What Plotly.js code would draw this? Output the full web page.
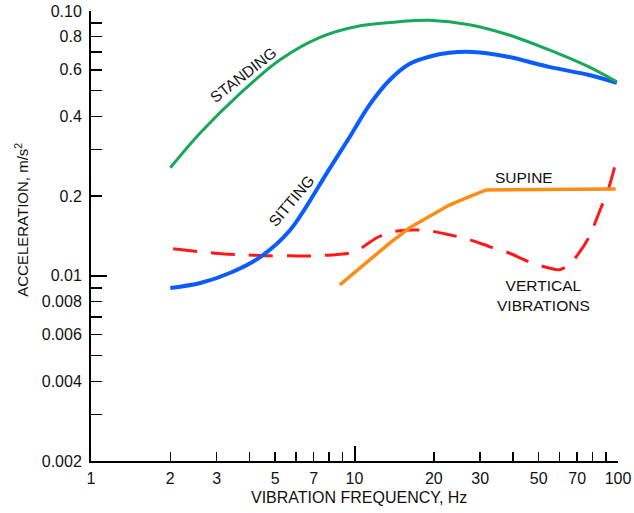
<!DOCTYPE html>
<html>
<head>
<meta charset="utf-8">
<script src="https://cdn.plot.ly/plotly-3.0.1.min.js"></script>
<style>
  html, body { margin: 0; padding: 0; background: #fff; }
  #chart { width: 634px; height: 513px; }
</style>
</head>
<body>
<div id="chart"></div>
<script>
// ---- data ----
const standingFreq = [2, 2.6, 3.7, 5.2, 7.4, 10.4, 15, 19.2, 27.3, 38.6, 54.8, 77.6, 99];
const standingAcc  = [0.0256, 0.0347, 0.0491, 0.0653, 0.0795, 0.0878, 0.0912, 0.0922, 0.0888, 0.0812, 0.0713, 0.0615, 0.054];

const sittingFreq = [2, 2.6, 3.4, 4.4, 5.7, 8.0, 9.6, 11.4, 13.6, 16.2, 19.2, 22.9, 28, 38.6, 54.8, 77.6, 99];
const sittingAcc  = [0.0090, 0.0094, 0.0103, 0.0118, 0.0149, 0.0252, 0.0335, 0.0442, 0.0549, 0.0632, 0.0672, 0.0695, 0.0700, 0.0670, 0.0615, 0.0573, 0.0535];

const supineFreq = [8.8, 11.4, 13.6, 16.2, 19.2, 22.9, 27.3, 31.6, 50, 70, 98];
const supineAcc  = [0.00925, 0.0115, 0.0133, 0.0152, 0.0167, 0.0185, 0.0199, 0.0211, 0.0212, 0.0212, 0.0213];

const verticalFreq = [2.05, 2.6, 3.2, 3.9, 4.8, 5.7, 6.9, 8.2, 9.6, 10.7, 12.1, 13.9, 16.2, 19.2, 22.9, 27.3, 32.5, 38.6, 46, 54.8, 59.8, 65.2, 71.1, 77.6, 84.7, 92.5, 98];
const verticalAcc  = [0.01265, 0.01233, 0.0121, 0.0120, 0.0119, 0.0119, 0.0119, 0.0120, 0.0122, 0.0128, 0.0139, 0.01466, 0.0149, 0.0148, 0.0143, 0.0137, 0.0129, 0.0122, 0.0113, 0.0107, 0.01054, 0.0110, 0.0122, 0.0140, 0.0173, 0.0217, 0.0267];

const xTickVals = [1, 2, 3, 5, 7, 10, 20, 30, 50, 70, 100];
const xTickText = ['1', '2', '3', '5', '7', '10', '20', '30', '50', '70', '100'];
const xMinorVals = [4, 6, 8, 9, 40, 60, 80, 90];
const xDecadeVals = [1, 10, 100];

const yTickVals = [0.002, 0.004, 0.006, 0.008, 0.01, 0.02, 0.04, 0.06, 0.08, 0.1];
const yTickText = ['0.002', '0.004', '0.006', '0.008', '0.01', '0.2', '0.4', '0.6', '0.8', '0.10'];
const yMinorVals = [0.003, 0.005, 0.007, 0.009, 0.03, 0.05, 0.07, 0.09];
const yDecadeVals = [0.01, 0.1];

const labels = {
  standing: 'STANDING',
  sitting: 'SITTING',
  supine: 'SUPINE',
  vertical: 'VERTICAL<br>VIBRATIONS',
  xTitle: 'VIBRATION FREQUENCY, Hz',
  yTitle: 'ACCELERATION, m/s<sup>2</sup>'
};

// ---- chart ----
const FONT = '"Liberation Sans", Arial, Helvetica, sans-serif';
const xRange = [0, 2];
const yRange = [Math.log10(0.002), -1];

const traces = [
  { x: verticalFreq, y: verticalAcc, mode: 'lines', type: 'scatter',
    line: { color: '#ff1a1a', width: 3, dash: '24px,14px', shape: 'spline', smoothing: 0.8 },
    hoverinfo: 'skip' },
  { x: supineFreq, y: supineAcc, mode: 'lines', type: 'scatter',
    line: { color: '#ff8c14', width: 3.5, shape: 'linear' }, hoverinfo: 'skip' },
  { x: sittingFreq, y: sittingAcc, mode: 'lines', type: 'scatter',
    line: { color: '#0a5cff', width: 4, shape: 'spline', smoothing: 0.9 }, hoverinfo: 'skip' },
  { x: standingFreq, y: standingAcc, mode: 'lines', type: 'scatter', xaxis: 'x2', yaxis: 'y2',
    line: { color: '#19a85a', width: 3, shape: 'spline', smoothing: 0.9 }, hoverinfo: 'skip' }
];

const tickFont = { family: FONT, size: 16, color: '#111' };
const annFont = { family: FONT, size: 15.5, color: '#111' };

function ann(text, x, y, extra) {
  return Object.assign({ text: text, xref: 'paper', yref: 'paper', x: x, y: y,
    xanchor: 'center', yanchor: 'middle', showarrow: false, font: annFont }, extra || {});
}

const layout = {
  width: 634, height: 513,
  margin: { l: 91, r: 16, t: 11, b: 52 },
  paper_bgcolor: '#fff', plot_bgcolor: '#fff',
  showlegend: false,
  font: { family: FONT, color: '#111' },
  xaxis: {
    type: 'log', range: xRange, showgrid: false, zeroline: false,
    showline: true, linecolor: '#000', linewidth: 2,
    tickmode: 'array', tickvals: xTickVals, ticktext: xTickText,
    ticks: 'inside', ticklen: 9, tickwidth: 1.5, tickcolor: '#000',
    tickfont: tickFont, ticklabelstandoff: 2,
    minor: { tickmode: 'array', tickvals: xMinorVals, ticks: 'inside', ticklen: 9, tickwidth: 1.5, tickcolor: '#000', showgrid: false }
  },
  yaxis: {
    type: 'log', range: yRange, showgrid: false, zeroline: false,
    showline: true, linecolor: '#000', linewidth: 2,
    tickmode: 'array', tickvals: yTickVals, ticktext: yTickText,
    ticks: 'inside', ticklen: 11, tickwidth: 1.5, tickcolor: '#000',
    tickfont: tickFont, ticklabelstandoff: 4,
    minor: { tickmode: 'array', tickvals: yMinorVals, ticks: 'inside', ticklen: 11, tickwidth: 1.5, tickcolor: '#000', showgrid: false }
  },
  xaxis2: {
    type: 'log', range: xRange, overlaying: 'x', anchor: 'y', side: 'bottom',
    showgrid: false, zeroline: false, showline: false, showticklabels: false,
    tickmode: 'array', tickvals: xDecadeVals,
    ticks: 'inside', ticklen: 15, tickwidth: 2, tickcolor: '#000'
  },
  yaxis2: {
    type: 'log', range: yRange, overlaying: 'y', anchor: 'x', side: 'left',
    showgrid: false, zeroline: false, showline: false, showticklabels: false,
    tickmode: 'array', tickvals: yDecadeVals,
    ticks: 'inside', ticklen: 16, tickwidth: 2, tickcolor: '#000'
  },
  annotations: [
    ann(labels.standing, 0.290, 0.858, { textangle: -38 }),
    ann(labels.sitting, 0.381, 0.578, { textangle: -50 }),
    ann(labels.supine, 0.822, 0.630),
    ann(labels.vertical, 0.858, 0.367, { align: 'center' }),
    ann(labels.xTitle, 0.509, -0.08, { font: { family: FONT, size: 16, color: '#111' } }),
    ann(labels.yTitle, -0.131, 0.536, { textangle: -90, font: { family: FONT, size: 15, color: '#111' } })
  ]
};

Plotly.newPlot('chart', traces, layout, { staticPlot: true, displayModeBar: false });
</script>
</body>
</html>
